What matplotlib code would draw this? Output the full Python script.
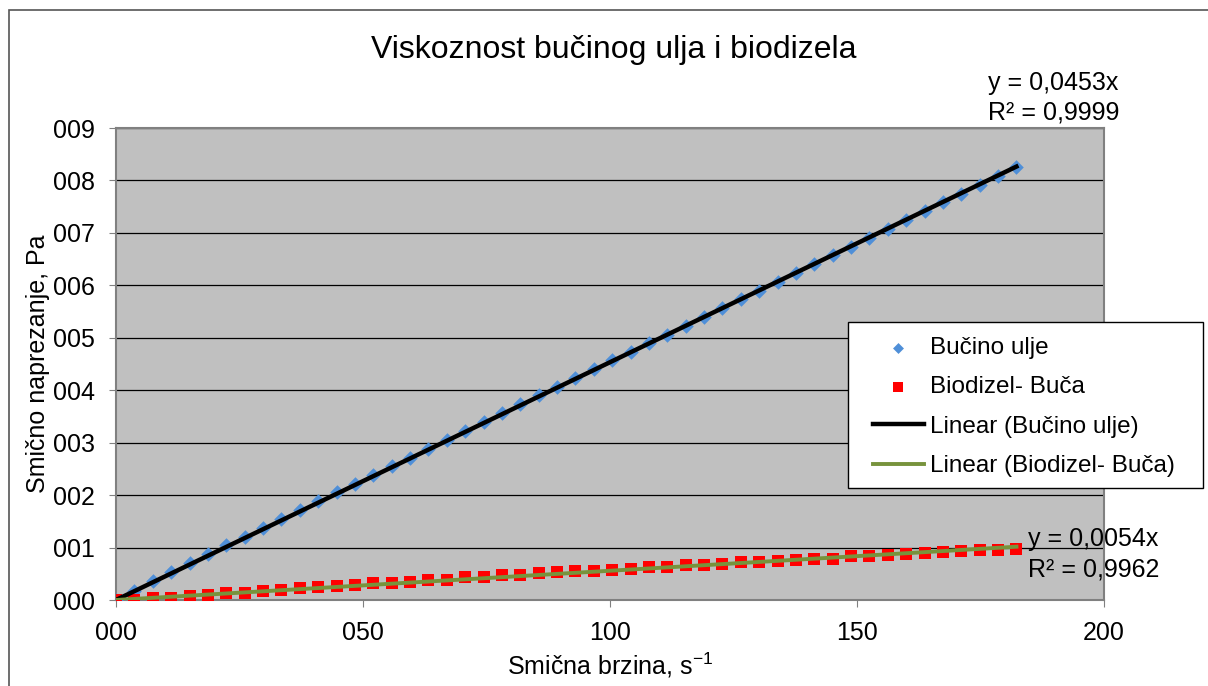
import matplotlib
matplotlib.use('Agg')
import matplotlib.pyplot as plt
import numpy as np
from matplotlib.patches import Rectangle

plt.rcParams['font.family'] = ['Liberation Sans', 'DejaVu Sans']
plt.rcParams['mathtext.fontset'] = 'custom'
plt.rcParams['mathtext.rm'] = 'Liberation Sans'

# shear rate, 1/s
shear_rate = [0.0, 3.72, 7.44, 11.16, 14.88, 18.6, 22.32, 26.04, 29.76, 33.48,
              37.2, 40.92, 44.64, 48.36, 52.08, 55.8, 59.52, 63.24, 66.96, 70.68,
              74.4, 78.12, 81.84, 85.56, 89.28, 93.0, 96.72, 100.44, 104.16, 107.88,
              111.6, 115.32, 119.04, 122.76, 126.48, 130.2, 133.92, 137.64, 141.36, 145.08,
              148.8, 152.52, 156.24, 159.96, 163.68, 167.4, 171.12, 174.84, 178.56, 182.28]
# shear stress, Pa
bucino_ulje = [0.0, 0.18, 0.36, 0.53, 0.71, 0.87, 1.04, 1.21, 1.38, 1.55,
               1.72, 1.89, 2.05, 2.21, 2.38, 2.55, 2.71, 2.88, 3.05, 3.22,
               3.39, 3.56, 3.73, 3.9, 4.06, 4.23, 4.4, 4.57, 4.73, 4.9,
               5.06, 5.23, 5.4, 5.57, 5.73, 5.9, 6.07, 6.23, 6.4, 6.57,
               6.73, 6.9, 7.07, 7.24, 7.41, 7.58, 7.74, 7.91, 8.08, 8.25]
biodizel = [0.0, 0.0, 0.03, 0.03, 0.08, 0.09, 0.13, 0.14, 0.18, 0.19,
            0.23, 0.24, 0.27, 0.28, 0.32, 0.33, 0.35, 0.38, 0.39, 0.43,
            0.44, 0.47, 0.48, 0.51, 0.53, 0.55, 0.56, 0.58, 0.59, 0.62,
            0.63, 0.66, 0.67, 0.68, 0.72, 0.73, 0.75, 0.76, 0.78, 0.79,
            0.83, 0.84, 0.85, 0.88, 0.89, 0.92, 0.93, 0.95, 0.96, 0.98]

x = np.array(shear_rate)
y1 = np.array(bucino_ulje)
y2 = np.array(biodizel)
# trendlines through origin
k1 = np.sum(x * y1) / np.sum(x * x)
k2 = np.sum(x * y2) / np.sum(x * x)
xl = np.array([0, x.max()])

FS = 18
W, H = 1208, 686

fig = plt.figure(figsize=(12.08, 6.86), dpi=100)
fig.patches.append(Rectangle((9 / W, -0.1), 1.2, 1 - 10 / H + 0.1, transform=fig.transFigure,
                             fill=False, edgecolor='#555555', lw=1.2))
ax = fig.add_axes([116 / W, 1 - 600 / H, (1104 - 116) / W, (600 - 128) / H])
ax.set_facecolor('#c0c0c0')

ax.scatter(x, y1, marker='D', s=55, color='#4f8fd8', zorder=3, label='Bučino ulje', linewidths=0)
ax.scatter(x, y2, marker='s', s=80, color='#ff0000', zorder=3, label='Biodizel- Buča', linewidths=0)
ax.plot(xl, k1 * xl, color='black', lw=3.2, zorder=4, label='Linear (Bučino ulje)')
ax.plot(xl, k2 * xl, color='#77933c', lw=2.8, zorder=4, label='Linear (Biodizel- Buča)')

ax.set_xlim(0, 200)
ax.set_ylim(0, 9)
ax.set_xticks([0, 50, 100, 150, 200])
ax.set_yticks(range(10))
ax.set_xticklabels(['%03d' % v for v in [0, 50, 100, 150, 200]], fontsize=FS)
ax.set_yticklabels(['%03d' % v for v in range(10)], fontsize=FS)
ax.grid(axis='y', color='black', lw=0.9)
ax.set_axisbelow(True)
for s in ax.spines.values():
    s.set_color('#808080')
    s.set_linewidth(1.5)
ax.tick_params(direction='out', length=5, color='#808080', pad=10)

ax.set_xlabel('Smična brzina, s$^{\\mathregular{-1}}$', fontsize=FS, labelpad=4)
ax.set_ylabel('Smično naprezanje, Pa', fontsize=FS, labelpad=2)
fig.text(614 / W, 1 - 50 / H, 'Viskoznost bučinog ulja i biodizela', fontsize=23,
         ha='center', va='center')

ax.text(176.5, 9.06, 'y = 0,0453x\nR² = 0,9999', fontsize=FS, ha='left', va='bottom',
        linespacing=1.3, clip_on=False)
ax.text(184.6, 0.36, 'y = 0,0054x\nR² = 0,9962', fontsize=FS, ha='left', va='bottom',
        linespacing=1.3, clip_on=False)

# legend box (Excel style, wider padding on the left)
box = Rectangle((848 / W, 1 - 488 / H), (1203 - 848) / W, (488 - 322) / H,
                transform=fig.transFigure, facecolor='white', edgecolor='black',
                lw=1.0, zorder=8, clip_on=False)
ax.add_patch(box)
leg = ax.legend(loc='upper left', bbox_to_anchor=(862 / W, 1 - 326 / H),
                bbox_transform=fig.transFigure, fontsize=17.5, frameon=False,
                borderpad=0.45, labelspacing=0.72,
                handlelength=2.1, handletextpad=0.25, borderaxespad=0, markerscale=0.75)
leg.set_zorder(10)

fig.savefig('out.png', dpi=100)
